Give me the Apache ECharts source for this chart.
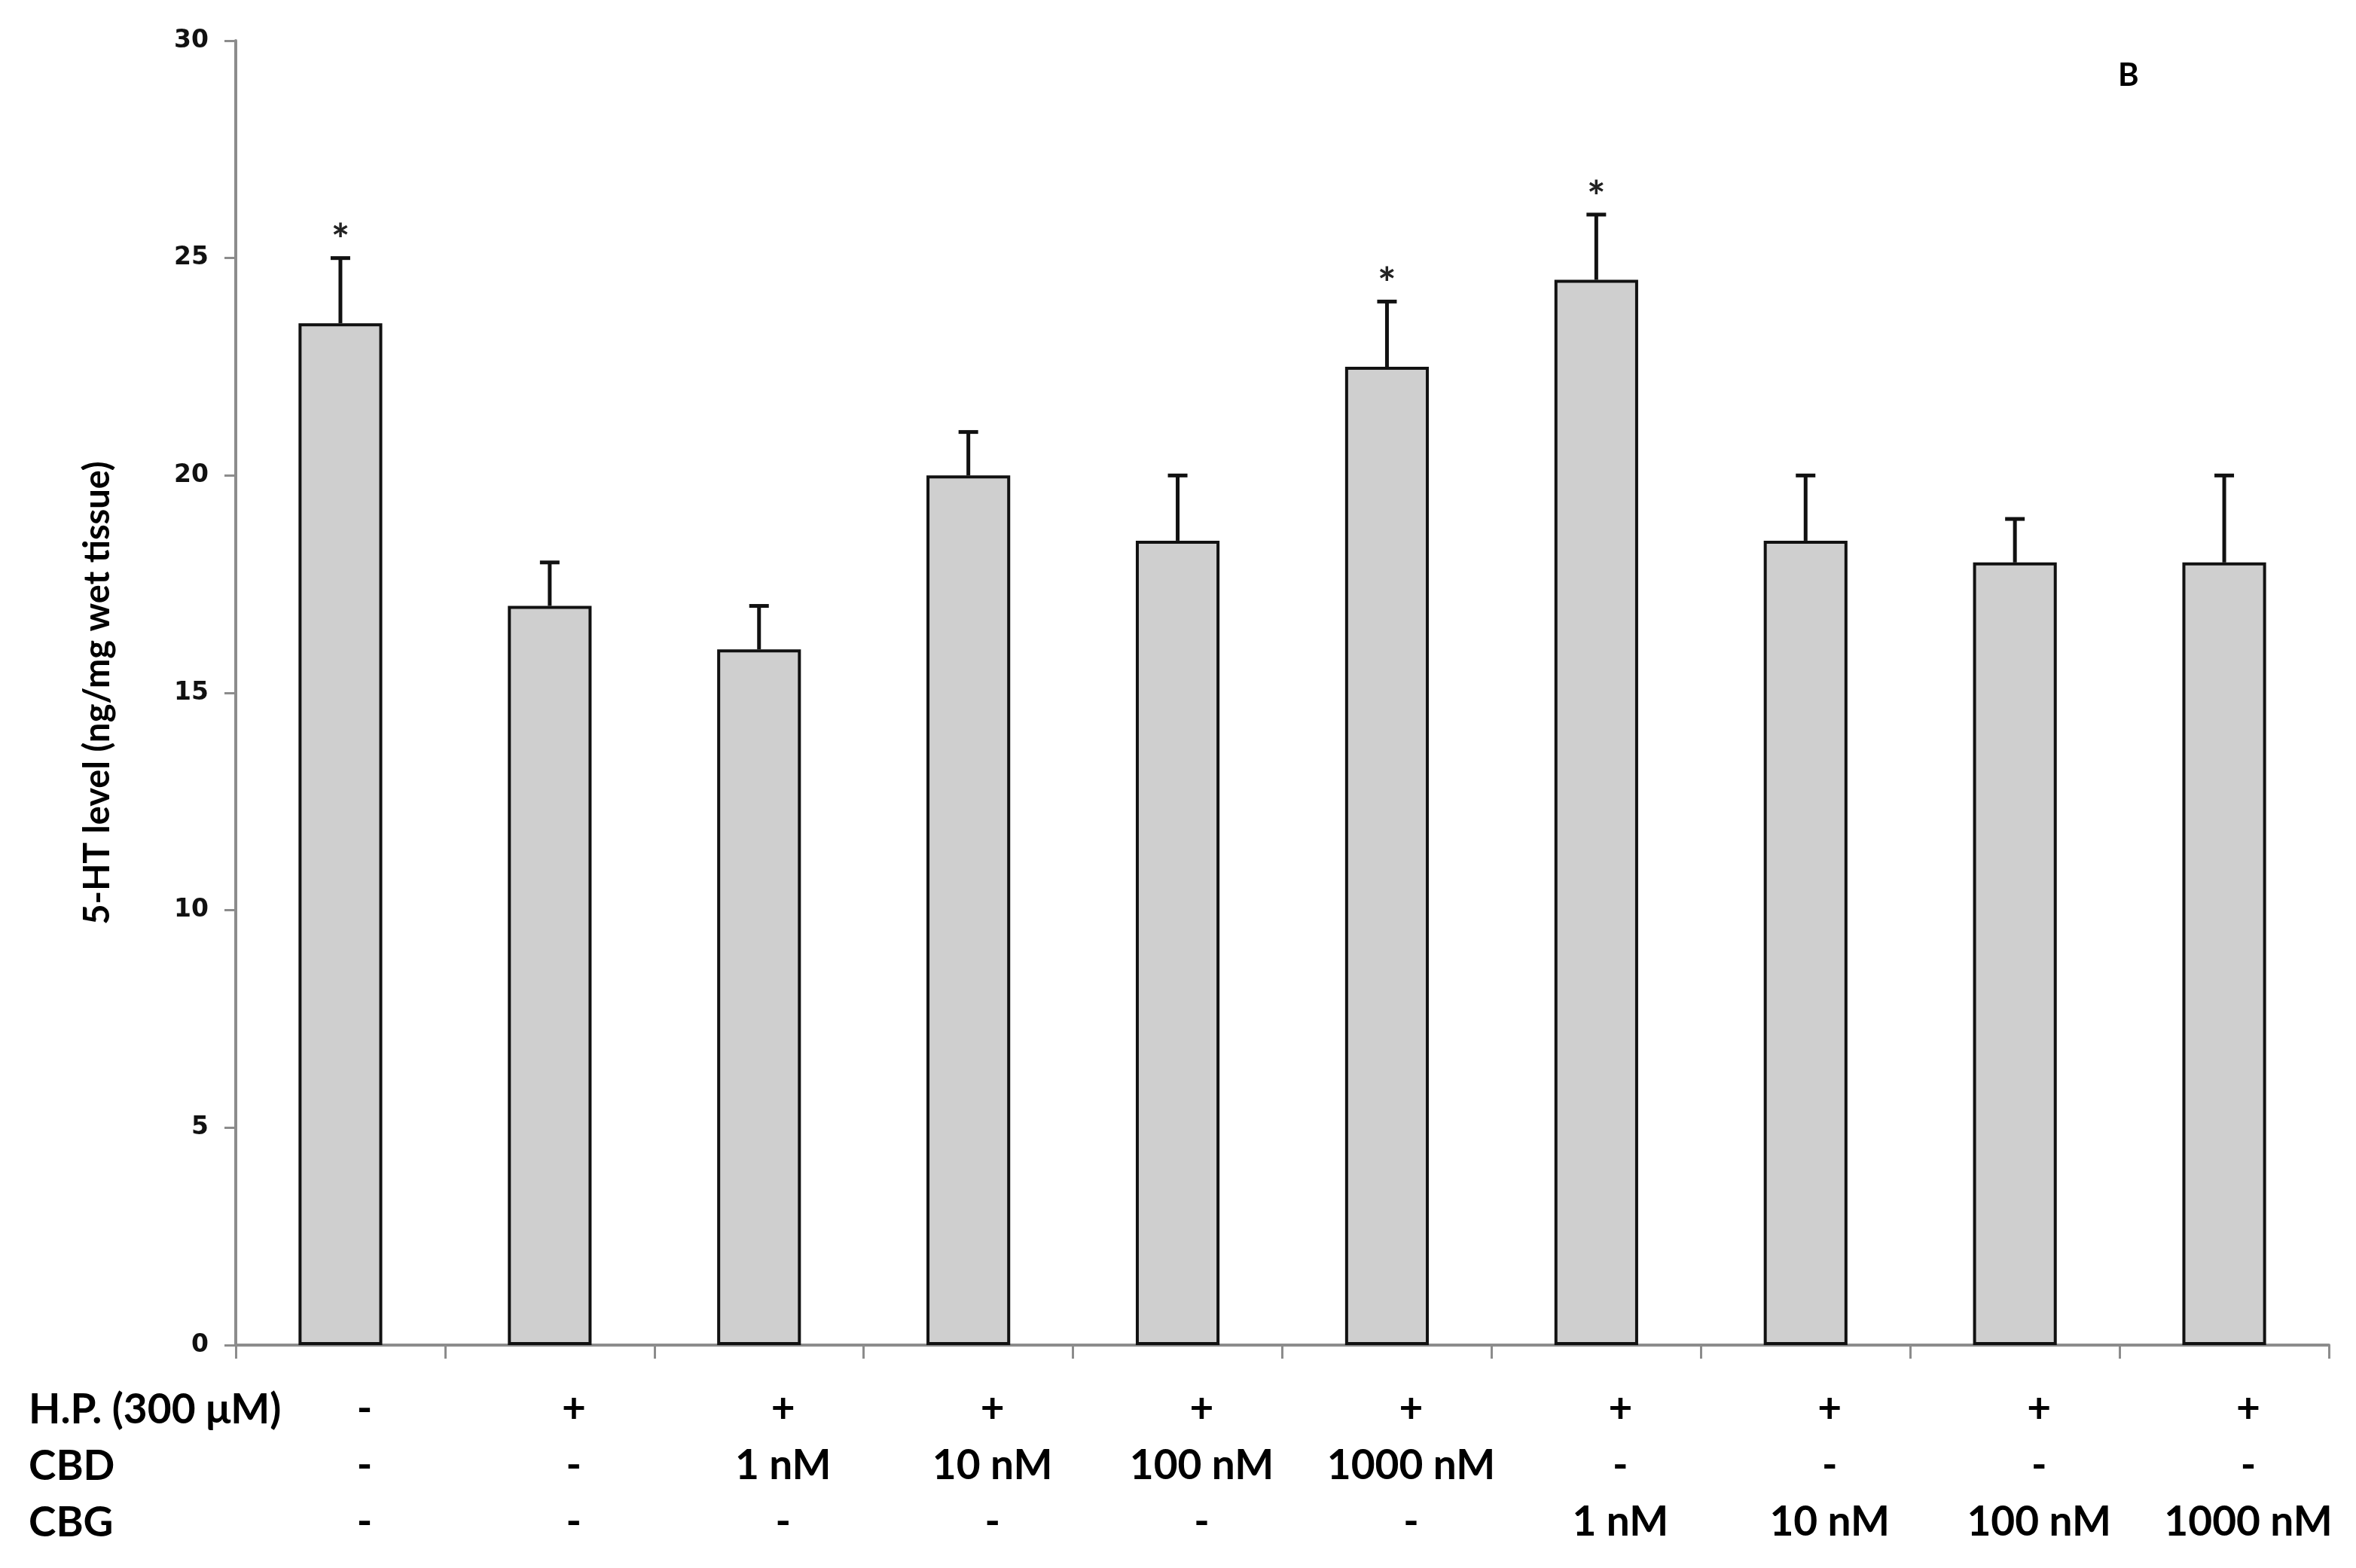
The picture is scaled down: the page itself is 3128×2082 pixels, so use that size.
<!DOCTYPE html>
<html>
<head>
<meta charset="utf-8">
<script src="https://cdn.jsdelivr.net/npm/echarts@6/dist/echarts.min.js"></script>
<style>
  html, body { margin: 0; padding: 0; background: #fff; }
  #chart { width: 3128px; height: 2082px; }
</style>
</head>
<body>
<div id="chart"></div>
<script>
// data
var groups = ["ctrl", "HP", "CBD1", "CBD10", "CBD100", "CBD1000", "CBG1", "CBG10", "CBG100", "CBG1000"];
var means = [23.5, 17, 16, 20, 18.5, 22.5, 24.5, 18.5, 18, 18];
var errors = [1.5, 1, 1, 1, 1.5, 1.5, 1.5, 1.5, 1, 2];
var signif = [true, false, false, false, false, true, true, false, false, false];
var hpRow = ["-", "+", "+", "+", "+", "+", "+", "+", "+", "+"];
var cbdRow = ["-", "-", "1 nM", "10 nM", "100 nM", "1000 nM", "-", "-", "-", "-"];
var cbgRow = ["-", "-", "-", "-", "-", "-", "1 nM", "10 nM", "100 nM", "1000 nM"];
var rowNames = ["H.P. (300 μM)", "CBD", "CBG"];
var yTicks = [0, 30, 5]; // min, max, step

var font = "Lato, 'Open Sans', sans-serif";
var tickFont = "'DejaVu Sans', Verdana, sans-serif";
var chart = echarts.init(document.getElementById("chart"));

var rowY = [1872, 1947, 2022];

var option = {
  animation: false,
  backgroundColor: "#fff",
  grid: { left: 313, right: 36, top: 54, bottom: 296 },
  xAxis: {
    type: "category",
    data: groups,
    axisLine: { lineStyle: { color: "#8c8c8c", width: 4 } },
    axisTick: { show: true, length: 18, lineStyle: { color: "#8c8c8c", width: 3 } },
    axisLabel: {
      interval: 0,
      margin: 48,
      color: "#000",
      fontFamily: font,
      fontWeight: "bold",
      fontSize: 55,
      lineHeight: 75,
      // the table under the plot sits a little right of the bar centres
      padding: [0, 0, 0, 64],
      formatter: function (v, i) {
        return hpRow[i] + "\n" + cbdRow[i] + "\n" + cbgRow[i];
      }
    }
  },
  yAxis: {
    type: "value",
    min: yTicks[0],
    max: yTicks[1],
    interval: yTicks[2],
    splitLine: { show: false },
    axisLine: { show: true, lineStyle: { color: "#8c8c8c", width: 4 } },
    axisTick: { show: true, length: 15, lineStyle: { color: "#8c8c8c", width: 3 } },
    axisLabel: { color: "#111", fontFamily: tickFont, fontWeight: "bold", fontSize: 33, margin: 36 },
    name: "5-HT level (ng/mg wet tissue)",
    nameLocation: "middle",
    nameGap: 160,
    nameTextStyle: { color: "#000", fontFamily: font, fontWeight: "bold", fontSize: 47 }
  },
  series: [
    {
      type: "bar",
      data: means,
      barWidth: "40%",
      itemStyle: { color: "#cfcfcf", borderColor: "#111", borderWidth: 4 },
      z: 2
    },
    {
      type: "custom",
      z: 3,
      data: means.map(function (m, i) { return [i, m, errors[i], signif[i] ? 1 : 0]; }),
      renderItem: function (params, api) {
        var x = api.value(0);
        var base = api.coord([x, api.value(1)]);
        var top = api.coord([x, api.value(1) + api.value(2)]);
        var cap = 26;
        var children = [
          { type: "line", shape: { x1: base[0], y1: base[1], x2: top[0], y2: top[1] },
            style: { stroke: "#111", lineWidth: 5 } },
          { type: "line", shape: { x1: top[0] - cap / 2, y1: top[1], x2: top[0] + cap / 2, y2: top[1] },
            style: { stroke: "#111", lineWidth: 5 } }
        ];
        if (api.value(3)) {
          children.push({
            type: "text",
            style: { text: "*", x: top[0], y: top[1] - 22, align: "center", verticalAlign: "middle",
              fill: "#222", font: "bold 58px " + font }
          });
        }
        return { type: "group", children: children };
      }
    }
  ],
  graphic: rowNames.map(function (name, r) {
    return {
      type: "text",
      x: 38,
      y: rowY[r],
      style: { text: name, fill: "#000", font: "bold 55px " + font, verticalAlign: "middle" }
    };
  }).concat([
    { type: "text", x: 2812, y: 100, style: { text: "B", fill: "#000", font: "bold 42px " + font, verticalAlign: "middle" } }
  ])
};

chart.setOption(option);
</script>
</body>
</html>
